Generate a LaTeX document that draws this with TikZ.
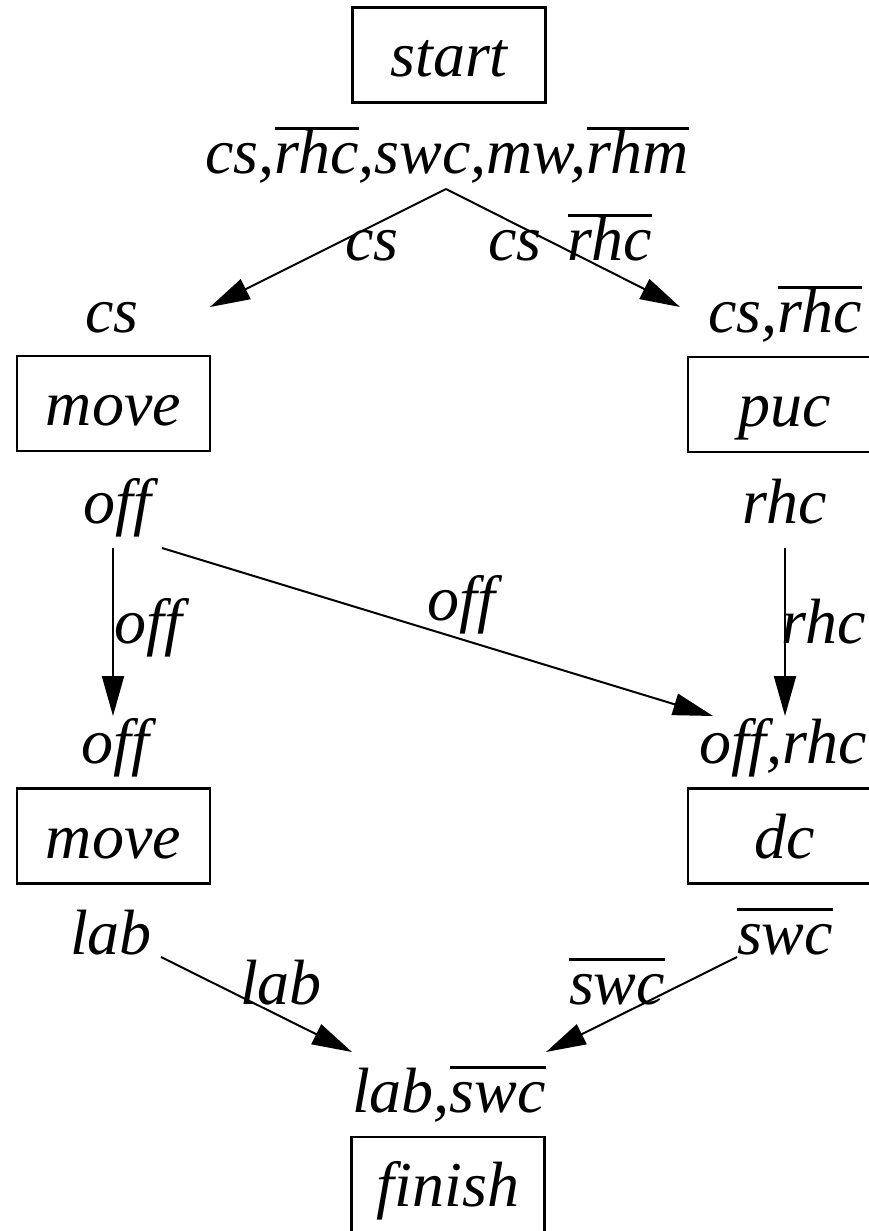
\documentclass[tikz,border=0pt]{standalone}
\usepackage{fontspec}
\setmainfont{Liberation Serif}
\usetikzlibrary{arrows.meta}
\newcommand\olx[1]{\vbox{\hrule height 2.6pt\hbox{\rule{0pt}{43pt}\smash{#1}}}}
\begin{document}
\begin{tikzpicture}[x=1pt,y=-1pt,
  every node/.style={font=\fontsize{64pt}{70pt}\selectfont\itshape, inner sep=0pt},
  lbl/.style={anchor=base},
  box/.style={draw, line width=2.6pt, minimum width=193pt, minimum height=95pt, text height=50pt, text depth=6pt},
  arr/.style={line width=2pt, -{Triangle[length=40pt,width=22pt]}}]
\useasboundingbox (0,0) rectangle (869,1231);
\clip (0,0) rectangle (869,1231);
% boxes
\node[box] (start) at (449,55) {start};
\node[box] (move1) at (113.5,403.5) {move};
\node[box] (puc) at (784.5,404.5) {puc};
\node[box] (move2) at (113.5,836) {move};
\node[box] (dc) at (784.5,836) {dc};
\node[box] (finish) at (448,1184.5) {finish};
% state labels
\node[lbl] (top) at (447,173) {cs,\olx{rhc},swc,mw,\olx{rhm}};
\node[lbl] (csL) at (112,332) {cs};
\node[lbl] (csR) at (785,332) {cs,\olx{rhc}};
\node[lbl] (offU) at (117,523) {off};
\node[lbl] (rhcU) at (785,523) {rhc};
\node[lbl] (offL) at (115,763) {off};
\node[lbl] (offrhc) at (783,763) {off,rhc};
\node[lbl] (lab) at (111,954) {lab};
\node[lbl] (swcR) at (785,954) {\olx{swc}};
\node[lbl] (fin) at (449,1112) {lab,\olx{swc}};
% edge labels
\node[lbl] (e1) at (372,260) {cs};
\node[lbl] (e2a) at (515,260) {cs};
\node[lbl] (e2b) at (610,260) {\olx{rhc}};
\node[lbl] (e3) at (148,643) {off};
\node[lbl] (e4) at (461,620) {off};
\node[lbl] (e5) at (824,643) {rhc};
\node[lbl] (e6) at (281,1004) {lab};
\node[lbl] (e7) at (617,1004) {\olx{swc}};
% connector ends
\coordinate (j0) at (446,189);
\coordinate (t1) at (210,307);
\coordinate (t2) at (680,307);
\coordinate (s3) at (113,548);
\coordinate (t3) at (113,716);
\coordinate (s4) at (162,548);
\coordinate (t4) at (713,716);
\coordinate (s5) at (785,548);
\coordinate (t5) at (785,716);
\coordinate (s6) at (161,957);
\coordinate (t6) at (352,1052);
\coordinate (s7) at (737,957);
\coordinate (t7) at (546,1052);
\draw[arr] (j0) -- (t1);
\draw[arr] (j0) -- (t2);
\draw[arr] (s3) -- (t3);
\draw[arr] (s4) -- (t4);
\draw[arr] (s5) -- (t5);
\draw[arr] (s6) -- (t6);
\draw[arr] (s7) -- (t7);
\end{tikzpicture}
\end{document}
